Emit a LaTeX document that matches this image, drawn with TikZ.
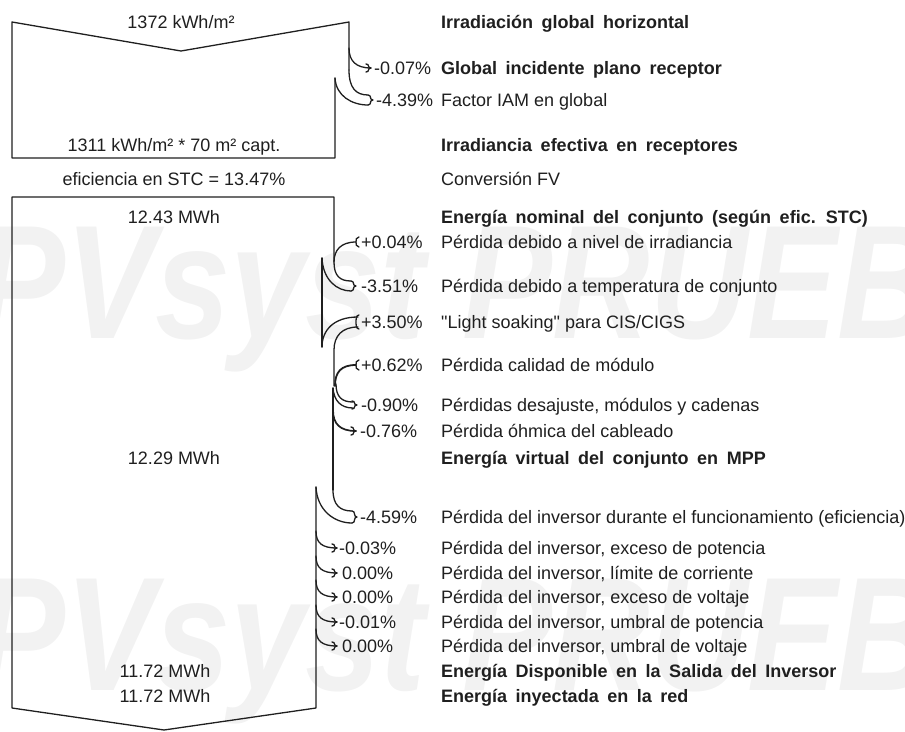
\documentclass[tikz,border=0pt]{standalone}
\usepackage{fontspec}
\setmainfont{Liberation Sans}[Ligatures=TeXOff]
% bold headings with slightly wider word gaps
\newcommand\headfont{\fontsize{18}{21}\selectfont\bfseries\spaceskip 8.5pt plus 1pt\relax}
\begin{document}
\begin{tikzpicture}[x=1pt,y=-1pt,
  flow/.style={draw=black!88,line width=1.3pt,line join=round,line cap=round},
  lbl/.style={font=\fontsize{18}{21}\selectfont,text=black!88,inner sep=0pt,text height=12.8pt,text depth=0pt},
  txt/.style={lbl,anchor=west},
  hdr/.style={lbl,anchor=west,font=\headfont},
  pct/.style={lbl,anchor=west},
  val/.style={lbl,anchor=center},
  wm/.style={font=\fontsize{135}{135}\selectfont\bfseries\itshape,text=black!5,inner sep=0pt,anchor=base west,yscale=1.2},
  pics/btip/.style={code={\draw[flow] (-5,-#1) .. controls (-1,-#1) and (-4,0) .. (0,0) .. controls (-4,0) and (-1,#1) .. (-5,#1);}},
  pics/gtip/.style={code={\draw[flow] (3,-#1) .. controls (0,-#1) and (0,-2) .. (0,0) .. controls (0,2) and (0,#1) .. (3,#1);}}
]
\useasboundingbox (0,0) rectangle (905,731);

% watermark
\node[wm] (wm1) at (-25,338) {PVsyst PRUEBA};
\node[wm] (wm2) at (-25,690) {PVsyst PRUEBA};

% ---------- irradiation block ----------
\coordinate (t1) at (371,68);
\coordinate (t2) at (373,100);
\draw[flow] (335,78) -- (335,158) -- (12,158) -- (12,22) -- (181,51) -- (349,22) -- (349,70);
\draw[flow] (349,48) .. controls (349,61) and (356,68) .. (t1);
\pic at (t1) {btip=4};
\draw[flow] (349,70) .. controls (349,88) and (356,95) .. (368,95);
\draw[flow] (335,78) .. controls (336,96) and (352,105) .. (368,105);
\pic at (t2) {btip=5};

% ---------- energy block ----------
\draw[flow] (334,262) -- (334,197) -- (12,197) -- (12,708) -- (164,730) -- (316,708) -- (316,487);
% irradiance level (gain) and temperature (loss)
\coordinate (t6) at (356,242);
\coordinate (t7) at (356,286);
\draw[flow] (t6) .. controls (341,242) and (334,250) .. (334,262) .. controls (334,276) and (340,281) .. (351,281);
\draw[flow] (322,258) .. controls (323,280) and (337,291) .. (351,291);
\pic at (t6) {gtip=5};
\pic at (t7) {btip=5};
\draw[flow] (322,258) -- (322,347);
% light soaking (gain)
\coordinate (t8) at (356,322);
\draw[flow] (358,317) .. controls (334,317) and (322,330) .. (322,347);
\draw[flow] (358,327) .. controls (342,327) and (334,336) .. (334,350) -- (334,386);
\pic at (t8) {gtip=7};
% module quality (gain)
\coordinate (t9) at (356,365);
\draw[flow,line width=1.8pt] (t9) .. controls (341,365) and (335,372) .. (335,386);
\pic at (t9) {gtip=5};
% mismatch
\coordinate (t10) at (357,405);
\draw[flow] (336,384) .. controls (336,397) and (342,402) .. (353,402);
\draw[flow] (333,388) .. controls (334,401) and (341,408) .. (353,408);
\pic at (t10) {btip=4};
\draw[flow] (333,388) -- (333,490);
% ohmic wiring
\coordinate (t11) at (356,431);
\draw[flow,line width=1.7pt] (333,410) .. controls (333,424) and (340,431) .. (t11);
\pic at (t11) {btip=4};
% inverter efficiency
\coordinate (t13) at (357,517);
\draw[flow] (333,490) .. controls (333,505) and (340,511) .. (352,511);
\draw[flow] (316,487) .. controls (317,510) and (334,523) .. (352,523);
\pic at (t13) {btip=6};
% small inverter losses
\foreach \yy/\nm in {548/a,573/b,597/c,622/d,646/e}{
  \coordinate (s\nm) at (337,\yy);
  \draw[flow] (316,\yy-17) .. controls (316,\yy-5) and (322,\yy) .. (s\nm);
  \pic at (s\nm) {btip=4};
}

% ---------- values on the flow ----------
\node[val] (v0) at (181,22) {1372 kWh/m²};
\node[val] (v1) at (174,145) {1311 kWh/m² * 70 m² capt.};
\node[val] (v2) at (174,179) {eficiencia en STC = 13.47\%};
\node[val] (v3) at (174,217) {12.43 MWh};
\node[val] (v4) at (174,458) {12.29 MWh};
\node[val] (v5) at (165,671) {11.72 MWh};
\node[val] (v6) at (165,696) {11.72 MWh};

% ---------- percentages ----------
\node[pct] (p1) at (374,68) {-0.07\%};
\node[pct] (p2) at (376,100) {-4.39\%};
\node[pct] (p6) at (361,242) {+0.04\%};
\node[pct] (p7) at (361,286) {-3.51\%};
\node[pct] (p8) at (361,322) {+3.50\%};
\node[pct] (p9) at (361,365) {+0.62\%};
\node[pct] (p10) at (361,405) {-0.90\%};
\node[pct] (p11) at (360,431) {-0.76\%};
\node[pct] (p13) at (360,517) {-4.59\%};
\node[pct] (p14) at (339,548) {-0.03\%};
\node[pct] (p15) at (342,573) {0.00\%};
\node[pct] (p16) at (342,597) {0.00\%};
\node[pct] (p17) at (339,622) {-0.01\%};
\node[pct] (p18) at (342,646) {0.00\%};

% ---------- descriptions ----------
\node[hdr] (l0) at (441,22) {Irradiación global horizontal};
\node[hdr] (l1) at (441,68) {Global incidente plano receptor};
\node[txt] (l2) at (441,100) {Factor IAM en global};
\node[hdr] (l3) at (441,145) {Irradiancia efectiva en receptores};
\node[txt] (l4) at (441,179) {Conversión FV};
\node[hdr] (l5) at (441,217) {Energía nominal del conjunto (según efic. STC)};
\node[txt] (l6) at (441,242) {Pérdida debido a nivel de irradiancia};
\node[txt] (l7) at (441,286) {Pérdida debido a temperatura de conjunto};
\node[txt] (l8) at (441,322) {"Light soaking" para CIS/CIGS};
\node[txt] (l9) at (441,365) {Pérdida calidad de módulo};
\node[txt] (l10) at (441,405) {Pérdidas desajuste, módulos y cadenas};
\node[txt] (l11) at (441,431) {Pérdida óhmica del cableado};
\node[hdr] (l12) at (441,458) {Energía virtual del conjunto en MPP};
\node[txt] (l13) at (441,517) {Pérdida del inversor durante el funcionamiento (eficiencia)};
\node[txt] (l14) at (441,548) {Pérdida del inversor, exceso de potencia};
\node[txt] (l15) at (441,573) {Pérdida del inversor, límite de corriente};
\node[txt] (l16) at (441,597) {Pérdida del inversor, exceso de voltaje};
\node[txt] (l17) at (441,622) {Pérdida del inversor, umbral de potencia};
\node[txt] (l18) at (441,646) {Pérdida del inversor, umbral de voltaje};
\node[hdr] (l19) at (441,671) {Energía Disponible en la Salida del Inversor};
\node[hdr] (l20) at (441,696) {Energía inyectada en la red};
\end{tikzpicture}
\end{document}
